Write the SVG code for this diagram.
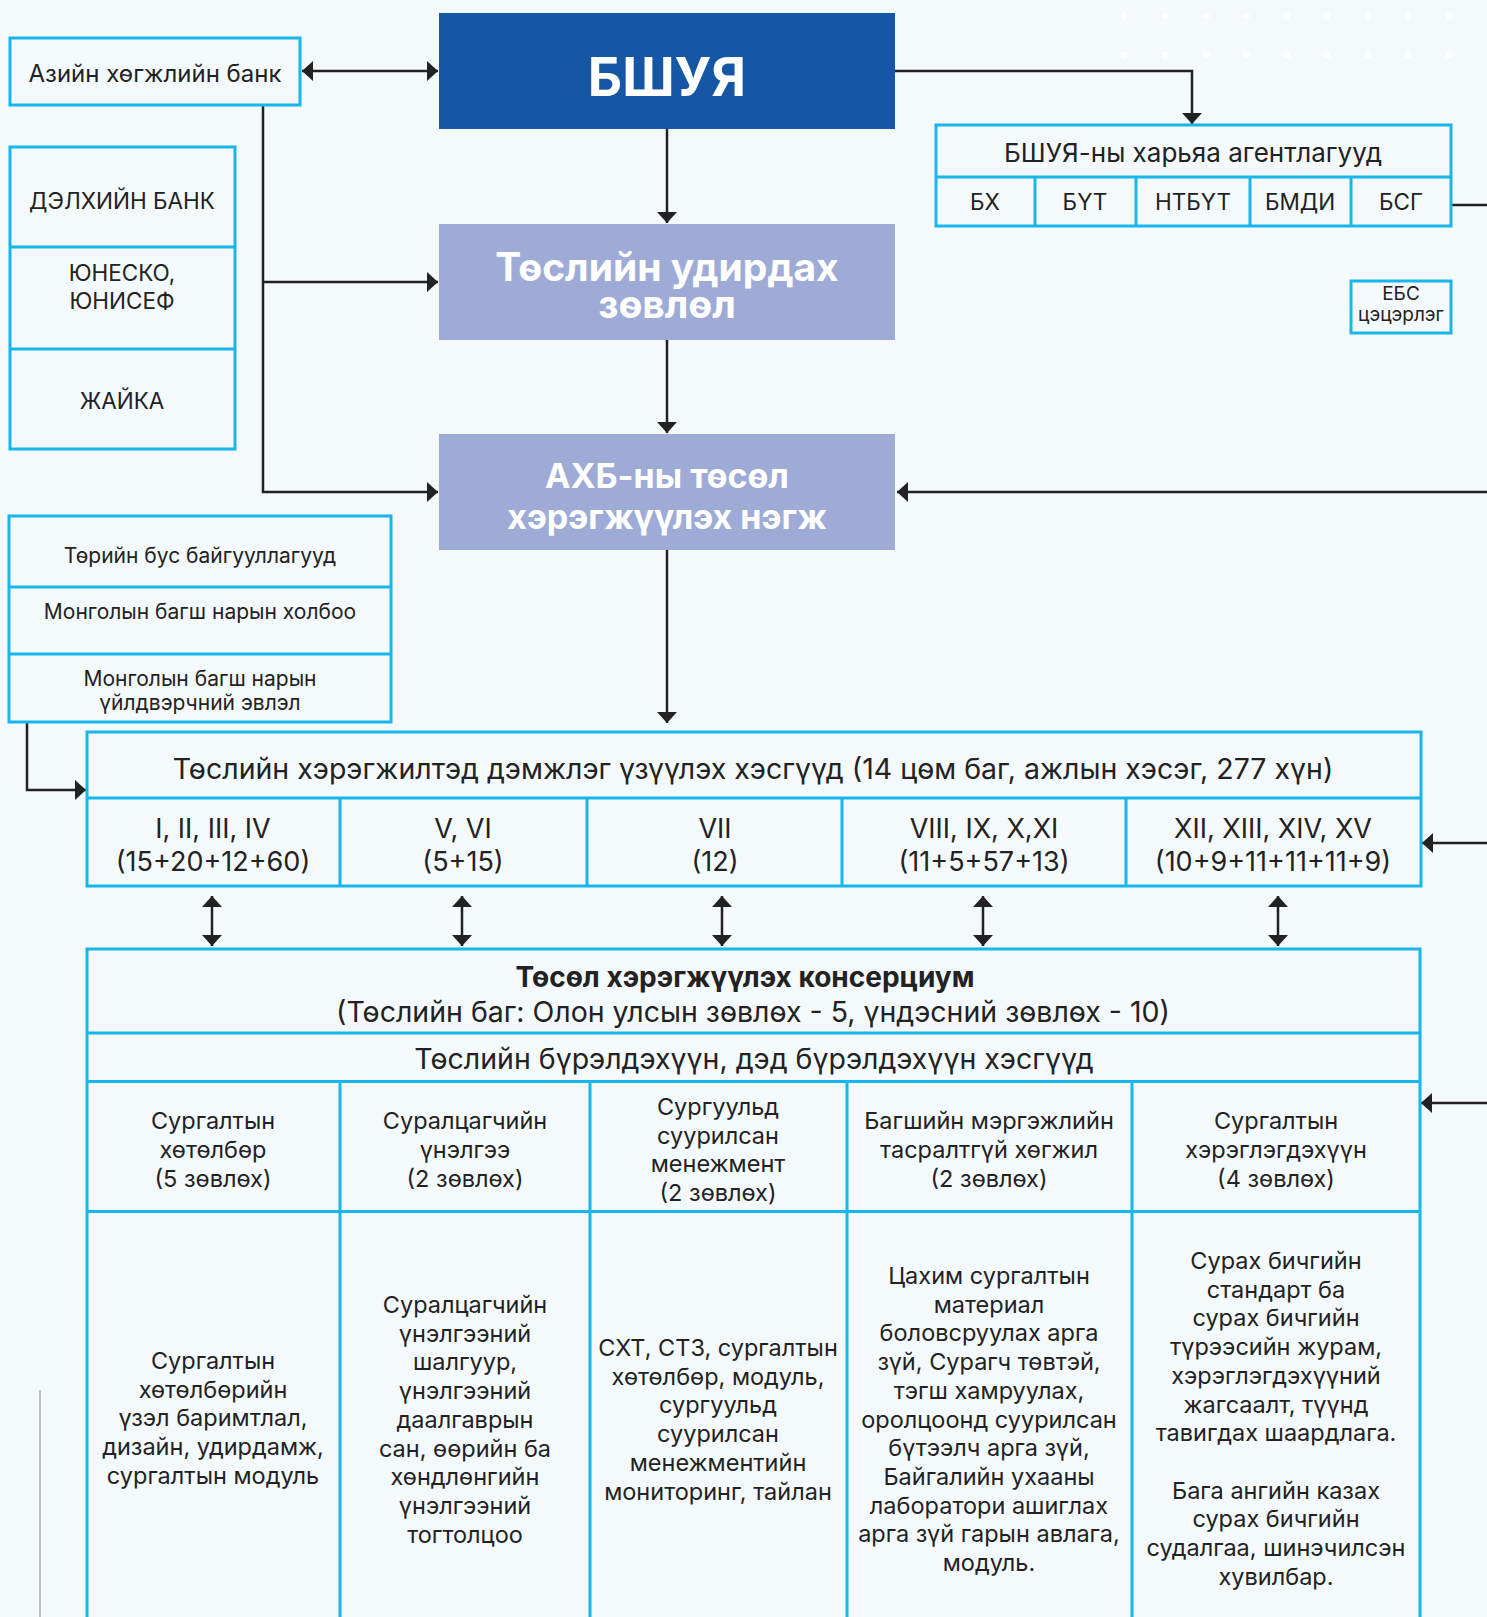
<svg xmlns="http://www.w3.org/2000/svg" width="1487" height="1617" viewBox="0 0 1487 1617">
<style>
.bx{fill:none;stroke:#17b6ec;stroke-width:3}
.dv{stroke:#17b6ec;stroke-width:3}
.cn{fill:none;stroke:#222;stroke-width:2.5}
.t{font-family:Inter,"Noto Sans",sans-serif;fill:#222;text-anchor:middle}
.w{font-family:Inter,"Noto Sans",sans-serif;fill:#fff;font-weight:bold;text-anchor:middle}
.s22{font-size:22.5px}
.s21{font-size:21px}
.s19{font-size:19px}
.s27{font-size:27px}
.s28{font-size:28.5px}
.s23{font-size:23.5px}
</style>
<defs>
<marker id="ah" markerUnits="userSpaceOnUse" markerWidth="12" markerHeight="20" refX="11" refY="10" orient="auto-start-reverse" viewBox="0 0 12 20">
<path d="M0,0 L11,10 L0,20 z" fill="#222"/>
</marker>
</defs>
<rect width="1487" height="1617" fill="#f4f9fc"/>
<g id="dots" fill="#ffffff">
<circle cx="1124" cy="16" r="3.5"/><circle cx="1165" cy="16" r="3.5"/><circle cx="1206" cy="16" r="3.5"/><circle cx="1246" cy="16" r="3.5"/><circle cx="1287" cy="16" r="3.5"/><circle cx="1327" cy="16" r="3.5"/><circle cx="1368" cy="16" r="3.5"/><circle cx="1408" cy="16" r="3.5"/><circle cx="1449" cy="16" r="3.5"/>
<circle cx="1124" cy="55" r="3.5"/><circle cx="1165" cy="55" r="3.5"/><circle cx="1206" cy="55" r="3.5"/><circle cx="1246" cy="55" r="3.5"/><circle cx="1287" cy="55" r="3.5"/><circle cx="1327" cy="55" r="3.5"/><circle cx="1368" cy="55" r="3.5"/><circle cx="1408" cy="55" r="3.5"/><circle cx="1449" cy="55" r="3.5"/>
</g>
<line x1="40" y1="1390" x2="40" y2="1617" stroke="#999" stroke-width="1.2"/>

<g id="connectors">
<line class="cn" x1="302" y1="71" x2="438" y2="71" marker-start="url(#ah)" marker-end="url(#ah)"/>
<path class="cn" d="M263,105 V492 H438" marker-end="url(#ah)"/>
<line class="cn" x1="263" y1="282" x2="438" y2="282" marker-end="url(#ah)"/>
<line class="cn" x1="667" y1="129" x2="667" y2="223" marker-end="url(#ah)"/>
<line class="cn" x1="667" y1="340" x2="667" y2="433" marker-end="url(#ah)"/>
<line class="cn" x1="667" y1="550" x2="667" y2="723" marker-end="url(#ah)"/>
<path class="cn" d="M895,71 H1192 V124" marker-end="url(#ah)"/>
<line class="cn" x1="1452" y1="205" x2="1487" y2="205"/>
<line class="cn" x1="1487" y1="492" x2="897" y2="492" marker-end="url(#ah)"/>
<path class="cn" d="M27,722 V790 H86" marker-end="url(#ah)"/>
<line class="cn" x1="1487" y1="843" x2="1422" y2="843" marker-end="url(#ah)"/>
<line class="cn" x1="1487" y1="1103" x2="1421" y2="1103" marker-end="url(#ah)"/>
<line class="cn" x1="212" y1="896" x2="212" y2="946" marker-start="url(#ah)" marker-end="url(#ah)"/>
<line class="cn" x1="462" y1="896" x2="462" y2="946" marker-start="url(#ah)" marker-end="url(#ah)"/>
<line class="cn" x1="722" y1="896" x2="722" y2="946" marker-start="url(#ah)" marker-end="url(#ah)"/>
<line class="cn" x1="983" y1="896" x2="983" y2="946" marker-start="url(#ah)" marker-end="url(#ah)"/>
<line class="cn" x1="1278" y1="896" x2="1278" y2="946" marker-start="url(#ah)" marker-end="url(#ah)"/>
</g>

<g id="adb">
<rect class="bx" x="10" y="38" width="290" height="67"/>
<text class="t" x="155" y="82" font-size="24">Азийн хөгжлийн банк</text>
</g>

<g id="donors">
<rect class="bx" x="10" y="147" width="225" height="302"/>
<line class="dv" x1="10" y1="247" x2="235" y2="247"/>
<line class="dv" x1="10" y1="349" x2="235" y2="349"/>
<text class="t s22" x="122" y="209">ДЭЛХИЙН БАНК</text>
<text class="t s22" x="122" y="281">ЮНЕСКО,</text>
<text class="t s22" x="122" y="309">ЮНИСЕФ</text>
<text class="t s22" x="122" y="409">ЖАЙКА</text>
</g>

<g id="bshuya">
<rect x="439" y="13" width="456" height="116" fill="#1657a5"/>
<text class="w" x="667" y="96" font-size="53">БШУЯ</text>
</g>

<g id="steering">
<rect x="439" y="224" width="456" height="116" fill="#9eabd6"/>
<text class="w" x="667" y="281" font-size="39">Төслийн удирдах</text>
<text class="w" x="667" y="318" font-size="39">зөвлөл</text>
</g>

<g id="piu">
<rect x="439" y="434" width="456" height="116" fill="#9eabd6"/>
<text class="w" x="667" y="488" font-size="34">АХБ-ны төсөл</text>
<text class="w" x="667" y="529" font-size="34">хэрэгжүүлэх нэгж</text>
</g>

<g id="agencies">
<rect class="bx" x="936" y="125" width="515" height="101"/>
<line class="dv" x1="936" y1="177" x2="1451" y2="177"/>
<line class="dv" x1="1035" y1="177" x2="1035" y2="226"/>
<line class="dv" x1="1136" y1="177" x2="1136" y2="226"/>
<line class="dv" x1="1250" y1="177" x2="1250" y2="226"/>
<line class="dv" x1="1351" y1="177" x2="1351" y2="226"/>
<text class="t" x="1193" y="162" font-size="26">БШУЯ-ны харьяа агентлагууд</text>
<text class="t s22" x="985" y="210">БХ</text>
<text class="t s22" x="1085" y="210">БҮТ</text>
<text class="t s22" x="1193" y="210">НТБҮТ</text>
<text class="t s22" x="1300" y="210">БМДИ</text>
<text class="t s22" x="1401" y="210">БСГ</text>
</g>

<g id="ebs">
<rect class="bx" x="1351" y="281" width="100" height="52"/>
<text class="t s19" x="1401" y="300">ЕБС</text>
<text class="t s19" x="1401" y="321">цэцэрлэг</text>
</g>

<g id="ngo">
<rect class="bx" x="9" y="516" width="382" height="206"/>
<line class="dv" x1="9" y1="587" x2="391" y2="587"/>
<line class="dv" x1="9" y1="654" x2="391" y2="654"/>
<text class="t s21" x="200" y="563">Төрийн бус байгууллагууд</text>
<text class="t s21" x="200" y="619">Монголын багш нарын холбоо</text>
<text class="t s21" x="200" y="686">Монголын багш нарын</text>
<text class="t s21" x="200" y="710">үйлдвэрчний эвлэл</text>
</g>

<g id="support">
<rect class="bx" x="87" y="732" width="1334" height="154"/>
<line class="dv" x1="87" y1="798" x2="1421" y2="798"/>
<line class="dv" x1="340" y1="798" x2="340" y2="886"/>
<line class="dv" x1="587" y1="798" x2="587" y2="886"/>
<line class="dv" x1="842" y1="798" x2="842" y2="886"/>
<line class="dv" x1="1126" y1="798" x2="1126" y2="886"/>
<text class="t s28" x="753" y="779">Төслийн хэрэгжилтэд дэмжлэг үзүүлэх хэсгүүд (14 цөм баг, ажлын хэсэг, 277 хүн)</text>
<text class="t s27" x="213" y="838">I, II, III, IV</text>
<text class="t s27" x="213" y="871">(15+20+12+60)</text>
<text class="t s27" x="463" y="838">V, VI</text>
<text class="t s27" x="463" y="871">(5+15)</text>
<text class="t s27" x="715" y="838">VII</text>
<text class="t s27" x="715" y="871">(12)</text>
<text class="t s27" x="984" y="838">VIII, IX, X,XI</text>
<text class="t s27" x="984" y="871">(11+5+57+13)</text>
<text class="t s27" x="1273" y="838">XII, XIII, XIV, XV</text>
<text class="t s27" x="1273" y="871">(10+9+11+11+11+9)</text>
</g>

<g id="consortium">
<rect class="bx" x="87" y="949" width="1333" height="700"/>
<line class="dv" x1="87" y1="1033" x2="1420" y2="1033"/>
<line class="dv" x1="87" y1="1081.5" x2="1420" y2="1081.5"/>
<line class="dv" x1="87" y1="1211.5" x2="1420" y2="1211.5"/>
<line class="dv" x1="340" y1="1081.5" x2="340" y2="1617"/>
<line class="dv" x1="590" y1="1081.5" x2="590" y2="1617"/>
<line class="dv" x1="847" y1="1081.5" x2="847" y2="1617"/>
<line class="dv" x1="1132" y1="1081.5" x2="1132" y2="1617"/>
<text class="t" x="745" y="987" font-size="28" font-weight="bold">Төсөл хэрэгжүүлэх консерциум</text>
<text class="t s28" x="753" y="1022">(Төслийн баг: Олон улсын зөвлөх - 5, үндэсний зөвлөх - 10)</text>
<text class="t s28" x="754" y="1069">Төслийн бүрэлдэхүүн, дэд бүрэлдэхүүн хэсгүүд</text>

<text class="t s23" x="213" y="1129">Сургалтын<tspan x="213" dy="29">хөтөлбөр</tspan><tspan x="213" dy="29">(5 зөвлөх)</tspan></text>
<text class="t s23" x="465" y="1129">Суралцагчийн<tspan x="465" dy="29">үнэлгээ</tspan><tspan x="465" dy="29">(2 зөвлөх)</tspan></text>
<text class="t s23" x="718" y="1115">Сургуульд<tspan x="718" dy="28.7">суурилсан</tspan><tspan x="718" dy="28.7">менежмент</tspan><tspan x="718" dy="28.7">(2 зөвлөх)</tspan></text>
<text class="t s23" x="989" y="1129">Багшийн мэргэжлийн<tspan x="989" dy="29">тасралтгүй хөгжил</tspan><tspan x="989" dy="29">(2 зөвлөх)</tspan></text>
<text class="t s23" x="1276" y="1129">Сургалтын<tspan x="1276" dy="29">хэрэглэгдэхүүн</tspan><tspan x="1276" dy="29">(4 зөвлөх)</tspan></text>

<text class="t s23" x="213" y="1369">Сургалтын<tspan x="213" dy="28.7">хөтөлбөрийн</tspan><tspan x="213" dy="28.7">үзэл баримтлал,</tspan><tspan x="213" dy="28.7">дизайн, удирдамж,</tspan><tspan x="213" dy="28.7">сургалтын модуль</tspan></text>
<text class="t s23" x="465" y="1313">Суралцагчийн<tspan x="465" dy="28.7">үнэлгээний</tspan><tspan x="465" dy="28.7">шалгуур,</tspan><tspan x="465" dy="28.7">үнэлгээний</tspan><tspan x="465" dy="28.7">даалгаврын</tspan><tspan x="465" dy="28.7">сан, өөрийн ба</tspan><tspan x="465" dy="28.7">хөндлөнгийн</tspan><tspan x="465" dy="28.7">үнэлгээний</tspan><tspan x="465" dy="28.7">тогтолцоо</tspan></text>
<text class="t s23" x="718" y="1356">СХТ, СТЗ, сургалтын<tspan x="718" dy="28.7">хөтөлбөр, модуль,</tspan><tspan x="718" dy="28.7">сургуульд</tspan><tspan x="718" dy="28.7">суурилсан</tspan><tspan x="718" dy="28.7">менежментийн</tspan><tspan x="718" dy="28.7">мониторинг, тайлан</tspan></text>
<text class="t s23" x="989" y="1284">Цахим сургалтын<tspan x="989" dy="28.7">материал</tspan><tspan x="989" dy="28.7">боловсруулах арга</tspan><tspan x="989" dy="28.7">зүй, Сурагч төвтэй,</tspan><tspan x="989" dy="28.7">тэгш хамруулах,</tspan><tspan x="989" dy="28.7">оролцоонд суурилсан</tspan><tspan x="989" dy="28.7">бүтээлч арга зүй,</tspan><tspan x="989" dy="28.7">Байгалийн ухааны</tspan><tspan x="989" dy="28.7">лаборатори ашиглах</tspan><tspan x="989" dy="28.7">арга зүй гарын авлага,</tspan><tspan x="989" dy="28.7">модуль.</tspan></text>
<text class="t s23" x="1276" y="1269">Сурах бичгийн<tspan x="1276" dy="28.7">стандарт ба</tspan><tspan x="1276" dy="28.7">сурах бичгийн</tspan><tspan x="1276" dy="28.7">түрээсийн журам,</tspan><tspan x="1276" dy="28.7">хэрэглэгдэхүүний</tspan><tspan x="1276" dy="28.7">жагсаалт, түүнд</tspan><tspan x="1276" dy="28.7">тавигдах шаардлага.</tspan><tspan x="1276" dy="57.4">Бага ангийн казах</tspan><tspan x="1276" dy="28.7">сурах бичгийн</tspan><tspan x="1276" dy="28.7">судалгаа, шинэчилсэн</tspan><tspan x="1276" dy="28.7">хувилбар.</tspan></text>
</g>
</svg>
